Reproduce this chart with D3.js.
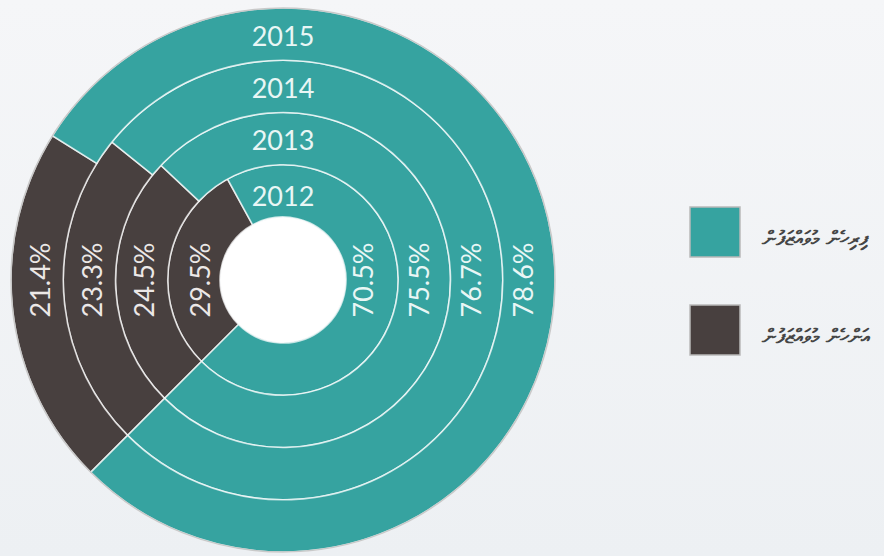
<!DOCTYPE html>
<html>
<head>
<meta charset="utf-8">
<script src="https://cdn.jsdelivr.net/npm/d3@7/dist/d3.min.js"></script>
<style>
html,body{margin:0;padding:0;}
body{width:884px;height:556px;overflow:hidden;}
</style>
</head>
<body>
<svg id="chart" width="884" height="556"></svg>
<script>
// ---- data ----
const years = ["2012", "2013", "2014", "2015"];
const tealValues = [70.5, 75.5, 76.7, 78.6];
const darkValues = [29.5, 24.5, 23.3, 21.4];
const seriesNames = ["ފިރިހެން މުވައްޒަފުން", "އަންހެން މުވައްޒަފުން"];
const seriesColors = ["#36a3a0", "#48403f"];

const W = 884, H = 556;
const cx = 283, cy = 280;
const svg = d3.select("#chart");

// background
const defs = svg.append("defs");
const grad = defs.append("linearGradient").attr("id", "bg")
  .attr("x1", 0).attr("y1", 0).attr("x2", 0).attr("y2", 1);
grad.append("stop").attr("offset", "0%").attr("stop-color", "#f5f6f8");
grad.append("stop").attr("offset", "100%").attr("stop-color", "#edf0f3");
svg.append("rect").attr("width", W).attr("height", H).attr("fill", "url(#bg)");

const rScale = d3.scaleBand().domain(years).range([63, 272]).padding(0);

const pie = d3.pie().sort(null)
  .startAngle(225 * Math.PI / 180)
  .endAngle(585 * Math.PI / 180);

const g = svg.append("g").attr("transform", `translate(${cx},${cy})`);

years.forEach((yr, i) => {
  const r0 = rScale(yr), r1 = r0 + rScale.bandwidth();
  const arc = d3.arc().innerRadius(r0).outerRadius(r1);
  const slices = pie([darkValues[i], tealValues[i]]);
  g.selectAll(null).data(slices).enter().append("path")
    .attr("d", arc)
    .attr("fill", (d, j) => j === 0 ? seriesColors[1] : seriesColors[0])
    .attr("stroke", "rgba(255,255,255,0.72)")
    .attr("stroke-width", 1.6);
});

// outer border
g.append("circle").attr("r", rScale.range()[1]).attr("fill", "none")
  .attr("stroke", "#c9c9c9").attr("stroke-width", 1.5);
// hole
g.append("circle").attr("r", rScale.range()[0] - 0.8).attr("fill", "#ffffff");

const txtColor = "#e9f6f5";
const fontFam = "Lato, 'Open Sans', sans-serif";

years.forEach((yr, i) => {
  const mid = rScale(yr) + rScale.bandwidth() / 2 - (i === 0 ? 6 : 2);
  // year label at top
  g.append("text").attr("x", 0).attr("y", -mid - 1)
    .attr("text-anchor", "middle").attr("dominant-baseline", "central")
    .attr("fill", txtColor).attr("font-family", fontFam).attr("font-size", 27)
    .text(yr);
  // dark label (left)
  g.append("text")
    .attr("transform", `translate(${-mid},0) rotate(-90)`)
    .attr("text-anchor", "middle").attr("dominant-baseline", "central")
    .attr("fill", "#ece8e7").attr("font-family", fontFam).attr("font-size", 27)
    .text(darkValues[i].toFixed(1) + "%");
  // teal label (right)
  g.append("text")
    .attr("transform", `translate(${mid - 4},0) rotate(-90)`)
    .attr("text-anchor", "middle").attr("dominant-baseline", "central")
    .attr("fill", txtColor).attr("font-family", fontFam).attr("font-size", 27)
    .text(tealValues[i].toFixed(1) + "%");
});

// legend
const legY = d3.scalePoint().domain(seriesNames).range([232, 330]);
const leg = svg.append("g");
seriesNames.forEach((name, i) => {
  const y = legY(name);
  leg.append("rect").attr("x", 690).attr("y", y - 25).attr("width", 50).attr("height", 50)
    .attr("fill", seriesColors[i]).attr("stroke", "#b9b9b9").attr("stroke-width", 1.5);
  leg.append("text").attr("x", 762).attr("y", y + 6)
    .attr("dominant-baseline", "central")
    .attr("fill", "#454545").attr("font-family", "'DejaVu Sans', 'Noto Sans', sans-serif")
    .attr("font-size", 20).attr("font-weight", "bold")
    .text(name);
});
</script>
</body>
</html>
